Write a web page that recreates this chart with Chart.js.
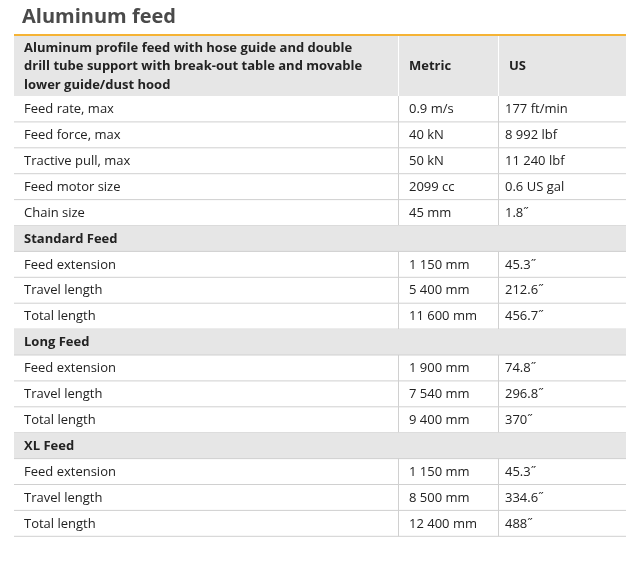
<!DOCTYPE html>
<html><head><meta charset="utf-8">
<script src="https://cdn.jsdelivr.net/npm/chart.js@4/dist/chart.umd.min.js"></script>
<style>html,body{margin:0;padding:0;background:#fff}#w{width:626px;height:564px}</style>
</head><body><div id="w"><canvas id="c"></canvas></div>
<script>
const title = "Aluminum feed";
const headers = ["Aluminum profile feed with hose guide and double\ndrill tube support with break-out table and movable\nlower guide/dust hood", "Metric", "US"];
const rowLabels = ["Feed rate, max","Feed force, max","Tractive pull, max","Feed motor size","Chain size","Standard Feed","Feed extension","Travel length","Total length","Long Feed","Feed extension","Travel length","Total length","XL Feed","Feed extension","Travel length","Total length"];
const metricValues = ["0.9 m/s","40 kN","50 kN","2099 cc","45 mm","","1 150 mm","5 400 mm","11 600 mm","","1 900 mm","7 540 mm","9 400 mm","","1 150 mm","8 500 mm","12 400 mm"];
const usValues = ["177 ft/min","8 992 lbf","11 240 lbf","0.6 US gal","1.8˝","","45.3˝","212.6˝","456.7˝","","74.8˝","296.8˝","370˝","","45.3˝","334.6˝","488˝"];
const sectionRows = ["Standard Feed","Long Feed","XL Feed"];

const F = "'Open Sans', sans-serif";
const tablePlugin = {
  id:'table',
  afterDraw(chart){
    const ctx = chart.ctx, X = chart.scales.x, Y = chart.scales.y;
    const px = v => X.getPixelForValue(v), py = v => Y.getPixelForValue(v);
    const L=14, R=626, C1=398, C2=498, H0=36, H1=96, RH=25.9;
    ctx.save();
    ctx.fillStyle='#4a4a4a'; ctx.font="bold 20px "+F; ctx.textBaseline='middle';
    ctx.fillText(title, px(22), py(17));
    ctx.fillStyle='#e6e6e6'; ctx.fillRect(px(L), py(H0), px(R)-px(L), py(H1)-py(H0));
    ctx.fillStyle='#f5b335'; ctx.fillRect(px(L), py(H0)-2, px(R)-px(L), 2);
    ctx.fillStyle='#222'; ctx.font="bold 13px "+F;
    headers[0].split("\n").forEach((t,i)=>ctx.fillText(t, px(24), py(48+i*18.5)));
    ctx.fillText(headers[1], px(409), py(66)); ctx.fillText(headers[2], px(509), py(66));
    rowLabels.forEach((lab,i)=>{
      const top=H1+i*RH, mid=top+RH/2+0.5;
      const sec = sectionRows.includes(lab);
      if(sec){ctx.fillStyle='#e6e6e6'; ctx.fillRect(px(L), py(top), px(R)-px(L), py(top+RH)-py(top));}
      ctx.fillStyle='#d0d0d0'; ctx.fillRect(px(L), py(top+RH)-0.5, px(R)-px(L), 1);
      if(!sec){ctx.fillRect(px(C1), py(top), 1, RH); ctx.fillRect(px(C2), py(top), 1, RH);}
      ctx.fillStyle='#222';
      ctx.font=(sec?"bold ":"")+"13px "+F;
      ctx.fillText(lab, px(24), py(mid));
      ctx.font="13px "+F;
      ctx.fillText(metricValues[i], px(409), py(mid));
      ctx.fillText(usValues[i], px(505), py(mid));
    });
    ctx.fillStyle='#fff'; ctx.fillRect(px(C1), py(H0), 1, H1-H0); ctx.fillRect(px(C2), py(H0), 1, H1-H0);
    ctx.restore();
  }
};
new Chart(document.getElementById('c'),{
  type:'scatter', data:{datasets:[{data:[]}]},
  options:{responsive:true,maintainAspectRatio:false,animation:false,
    layout:{padding:0},
    plugins:{legend:{display:false},tooltip:{enabled:false}},
    scales:{x:{type:'linear',min:0,max:626,display:false},y:{type:'linear',min:0,max:564,reverse:true,display:false}}},
  plugins:[tablePlugin]
});
</script></body></html>
